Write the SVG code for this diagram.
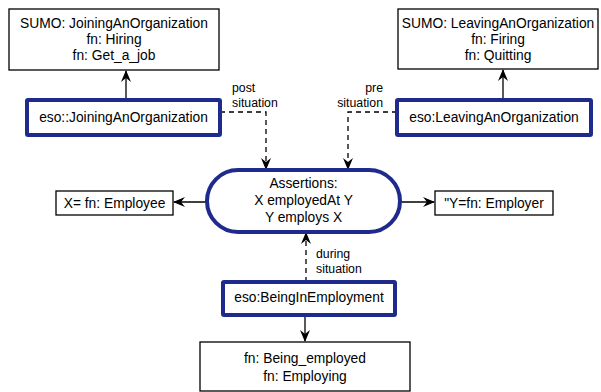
<svg xmlns="http://www.w3.org/2000/svg" width="601" height="392" viewBox="0 0 601 392">
<style>
  text { font-family: "Liberation Sans", Arial, sans-serif; fill: #000; }
  .t { font-size: 13.8px; text-anchor: middle; }
  .lbl { font-size: 12.3px; }
  .box { fill: #fff; stroke: #000; stroke-width: 1.3; }
  .eso { fill: #fff; stroke: #1f2b8c; stroke-width: 4; }
  .solid { fill: none; stroke: #000; stroke-width: 1.3; }
  .dash { fill: none; stroke: #000; stroke-width: 1.3; stroke-dasharray: 5 4; }
</style>
<defs>
  <marker id="ah" viewBox="0 0 12 10" refX="11" refY="5" markerWidth="12" markerHeight="10" markerUnits="userSpaceOnUse" orient="auto">
    <path d="M0,0 L12,5 L0,10 L4,5 z" fill="#000"/>
  </marker>
</defs>
<rect width="601" height="392" fill="#fff"/>

<g id="connectors">
  <path class="solid" d="M126,100 V71" marker-end="url(#ah)"/>
  <path class="solid" d="M503,100 V70" marker-end="url(#ah)"/>
  <path class="dash" d="M220,112 H266 V169" marker-end="url(#ah)"/>
  <path class="dash" d="M397,112 H348 V169" marker-end="url(#ah)"/>
  <path class="solid" d="M207,202 H174" marker-end="url(#ah)"/>
  <path class="solid" d="M400,202 H434" marker-end="url(#ah)"/>
  <path class="dash" d="M306,282 V233" marker-end="url(#ah)"/>
  <path class="solid" d="M305,315 V341" marker-end="url(#ah)"/>
  <text class="lbl" x="232" y="92">post</text>
  <text class="lbl" x="232" y="107">situation</text>
  <text class="lbl" x="383" y="92" text-anchor="end">pre</text>
  <text class="lbl" x="383" y="107" text-anchor="end">situation</text>
  <text class="lbl" x="316" y="258">during</text>
  <text class="lbl" x="316" y="273">situation</text>
</g>

<g id="sumo-joining">
  <rect class="box" x="9" y="9" width="210" height="61"/>
  <text class="t" x="114" y="28">SUMO: JoiningAnOrganization</text>
  <text class="t" x="114" y="44">fn: Hiring</text>
  <text class="t" x="114" y="60">fn: Get_a_job</text>
</g>

<g id="sumo-leaving">
  <rect class="box" x="398" y="9" width="200" height="60"/>
  <text class="t" x="498" y="28">SUMO: LeavingAnOrganization</text>
  <text class="t" x="498" y="44">fn: Firing</text>
  <text class="t" x="498" y="60">fn: Quitting</text>
</g>

<g id="eso-joining">
  <rect class="eso" x="27" y="100" width="193" height="35" rx="1"/>
  <text class="t" x="123.5" y="122">eso::JoiningAnOrganization</text>
</g>

<g id="eso-leaving">
  <rect class="eso" x="397" y="100" width="194" height="35" rx="1"/>
  <text class="t" x="494" y="122">eso:LeavingAnOrganization</text>
</g>

<g id="assertions">
  <rect class="eso" x="207" y="170" width="193" height="62" rx="31" ry="31"/>
  <text class="t" x="303.5" y="188">Assertions:</text>
  <text class="t" x="303.5" y="205">X employedAt Y</text>
  <text class="t" x="303.5" y="222">Y employs X</text>
</g>

<g id="employee">
  <rect class="box" x="56" y="191" width="117" height="24"/>
  <text class="t" x="114.5" y="208">X= fn: Employee</text>
</g>

<g id="employer">
  <rect class="box" x="435" y="191" width="118" height="24"/>
  <text class="t" x="494" y="208">"Y=fn: Employer</text>
</g>

<g id="eso-being">
  <rect class="eso" x="223" y="282" width="172" height="33" rx="1"/>
  <text class="t" x="309" y="302">eso:BeingInEmployment</text>
</g>

<g id="fn-being">
  <rect class="box" x="200" y="342" width="210" height="49"/>
  <text class="t" x="305" y="363">fn: Being_employed</text>
  <text class="t" x="305" y="381">fn: Employing</text>
</g>
</svg>
